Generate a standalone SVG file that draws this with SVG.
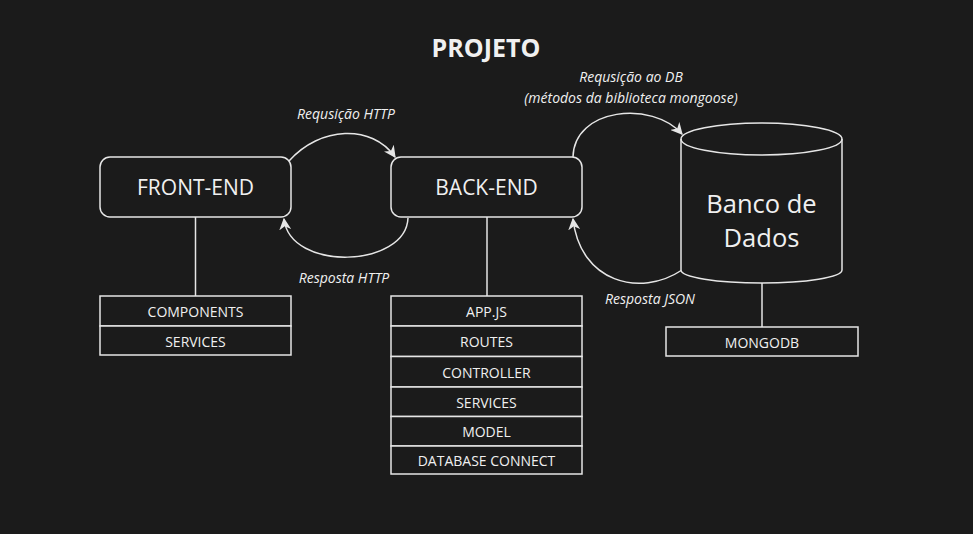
<svg xmlns="http://www.w3.org/2000/svg" width="973" height="534" viewBox="0 0 973 534">
<style>
.bg{fill:#1b1b1b}
.shape{fill:#1b1b1b;stroke:#e6e6e6;stroke-width:1.5}
.line{fill:none;stroke:#e6e6e6;stroke-width:1.5}
text{font-family:"Open Sans","DejaVu Sans",sans-serif;fill:#f0f0f0;text-anchor:middle;dominant-baseline:central}
.t{font-size:21px}
.row{font-size:14px}
.lbl{font-size:14px;font-style:italic}
.title{font-size:25px;font-weight:bold}
.db{font-size:25.5px}
</style>
<defs>
<marker id="arr" viewBox="0 0 10 10" refX="9" refY="5" markerWidth="12" markerHeight="12" markerUnits="userSpaceOnUse" orient="auto">
<path d="M0,0 L10,5 L0,10 L3,5 Z" fill="#e6e6e6"/>
</marker>
</defs>
<rect class="bg" x="0" y="0" width="973" height="534"/>
<text class="title" x="486" y="47">PROJETO</text>

<g id="connectors">
<path class="line" d="M289 161 C320 126 372 124 395 157" marker-end="url(#arr)"/>
<path class="line" d="M408 218 C406 268 290 272 284 219" marker-end="url(#arr)"/>
<path class="line" d="M573 157 C574 108 652 100 682 134" marker-end="url(#arr)"/>
<path class="line" d="M682 270 C640 298 580 282 573 219" marker-end="url(#arr)"/>
<line class="line" x1="195.5" y1="217" x2="195.5" y2="296"/>
<line class="line" x1="487" y1="217" x2="487" y2="296"/>
<line class="line" x1="762" y1="283" x2="762" y2="327"/>
<text class="lbl" x="346" y="113">Requsição HTTP</text>
<text class="lbl" x="344" y="277">Resposta HTTP</text>
<text class="lbl" x="631" y="76">Requsição ao DB</text>
<text class="lbl" x="631" y="97">(métodos da biblioteca mongoose)</text>
<text class="lbl" x="650" y="298">Resposta JSON</text>
</g>

<g id="frontend">
<rect class="shape" x="100" y="157" width="191" height="60" rx="10"/>
<text class="t" x="195.5" y="187">FRONT-END</text>
</g>
<g id="backend">
<rect class="shape" x="391" y="157" width="191" height="60" rx="10"/>
<text class="t" x="486.5" y="187">BACK-END</text>
</g>
<g id="database">
<path class="shape" d="M681 139 A80.5 16 0 0 1 842 139 L842 270 A80.5 13 0 0 1 681 270 Z"/>
<path class="line" d="M681 139 A80.5 16 0 0 0 842 139"/>
<text class="db" x="761.5" y="203">Banco de</text>
<text class="db" x="761.5" y="237">Dados</text>
</g>

<g id="frontend-list">
<rect class="shape" x="100" y="296" width="191" height="30"/>
<text class="row" x="195.5" y="311">COMPONENTS</text>
<rect class="shape" x="100" y="326" width="191" height="29"/>
<text class="row" x="195.5" y="341">SERVICES</text>
</g>

<g id="backend-list">
<rect class="shape" x="391" y="296" width="191" height="30"/>
<text class="row" x="486.5" y="311">APP.JS</text>
<rect class="shape" x="391" y="326" width="191" height="30.5"/>
<text class="row" x="486.5" y="341">ROUTES</text>
<rect class="shape" x="391" y="356.5" width="191" height="30.5"/>
<text class="row" x="486.5" y="372">CONTROLLER</text>
<rect class="shape" x="391" y="387" width="191" height="29.5"/>
<text class="row" x="486.5" y="402">SERVICES</text>
<rect class="shape" x="391" y="416.5" width="191" height="29.5"/>
<text class="row" x="486.5" y="431">MODEL</text>
<rect class="shape" x="391" y="446" width="191" height="28"/>
<text class="row" x="486.5" y="460">DATABASE CONNECT</text>
</g>

<g id="mongodb">
<rect class="shape" x="666" y="327" width="192" height="29"/>
<text class="row" x="762" y="342">MONGODB</text>
</g>
</svg>
